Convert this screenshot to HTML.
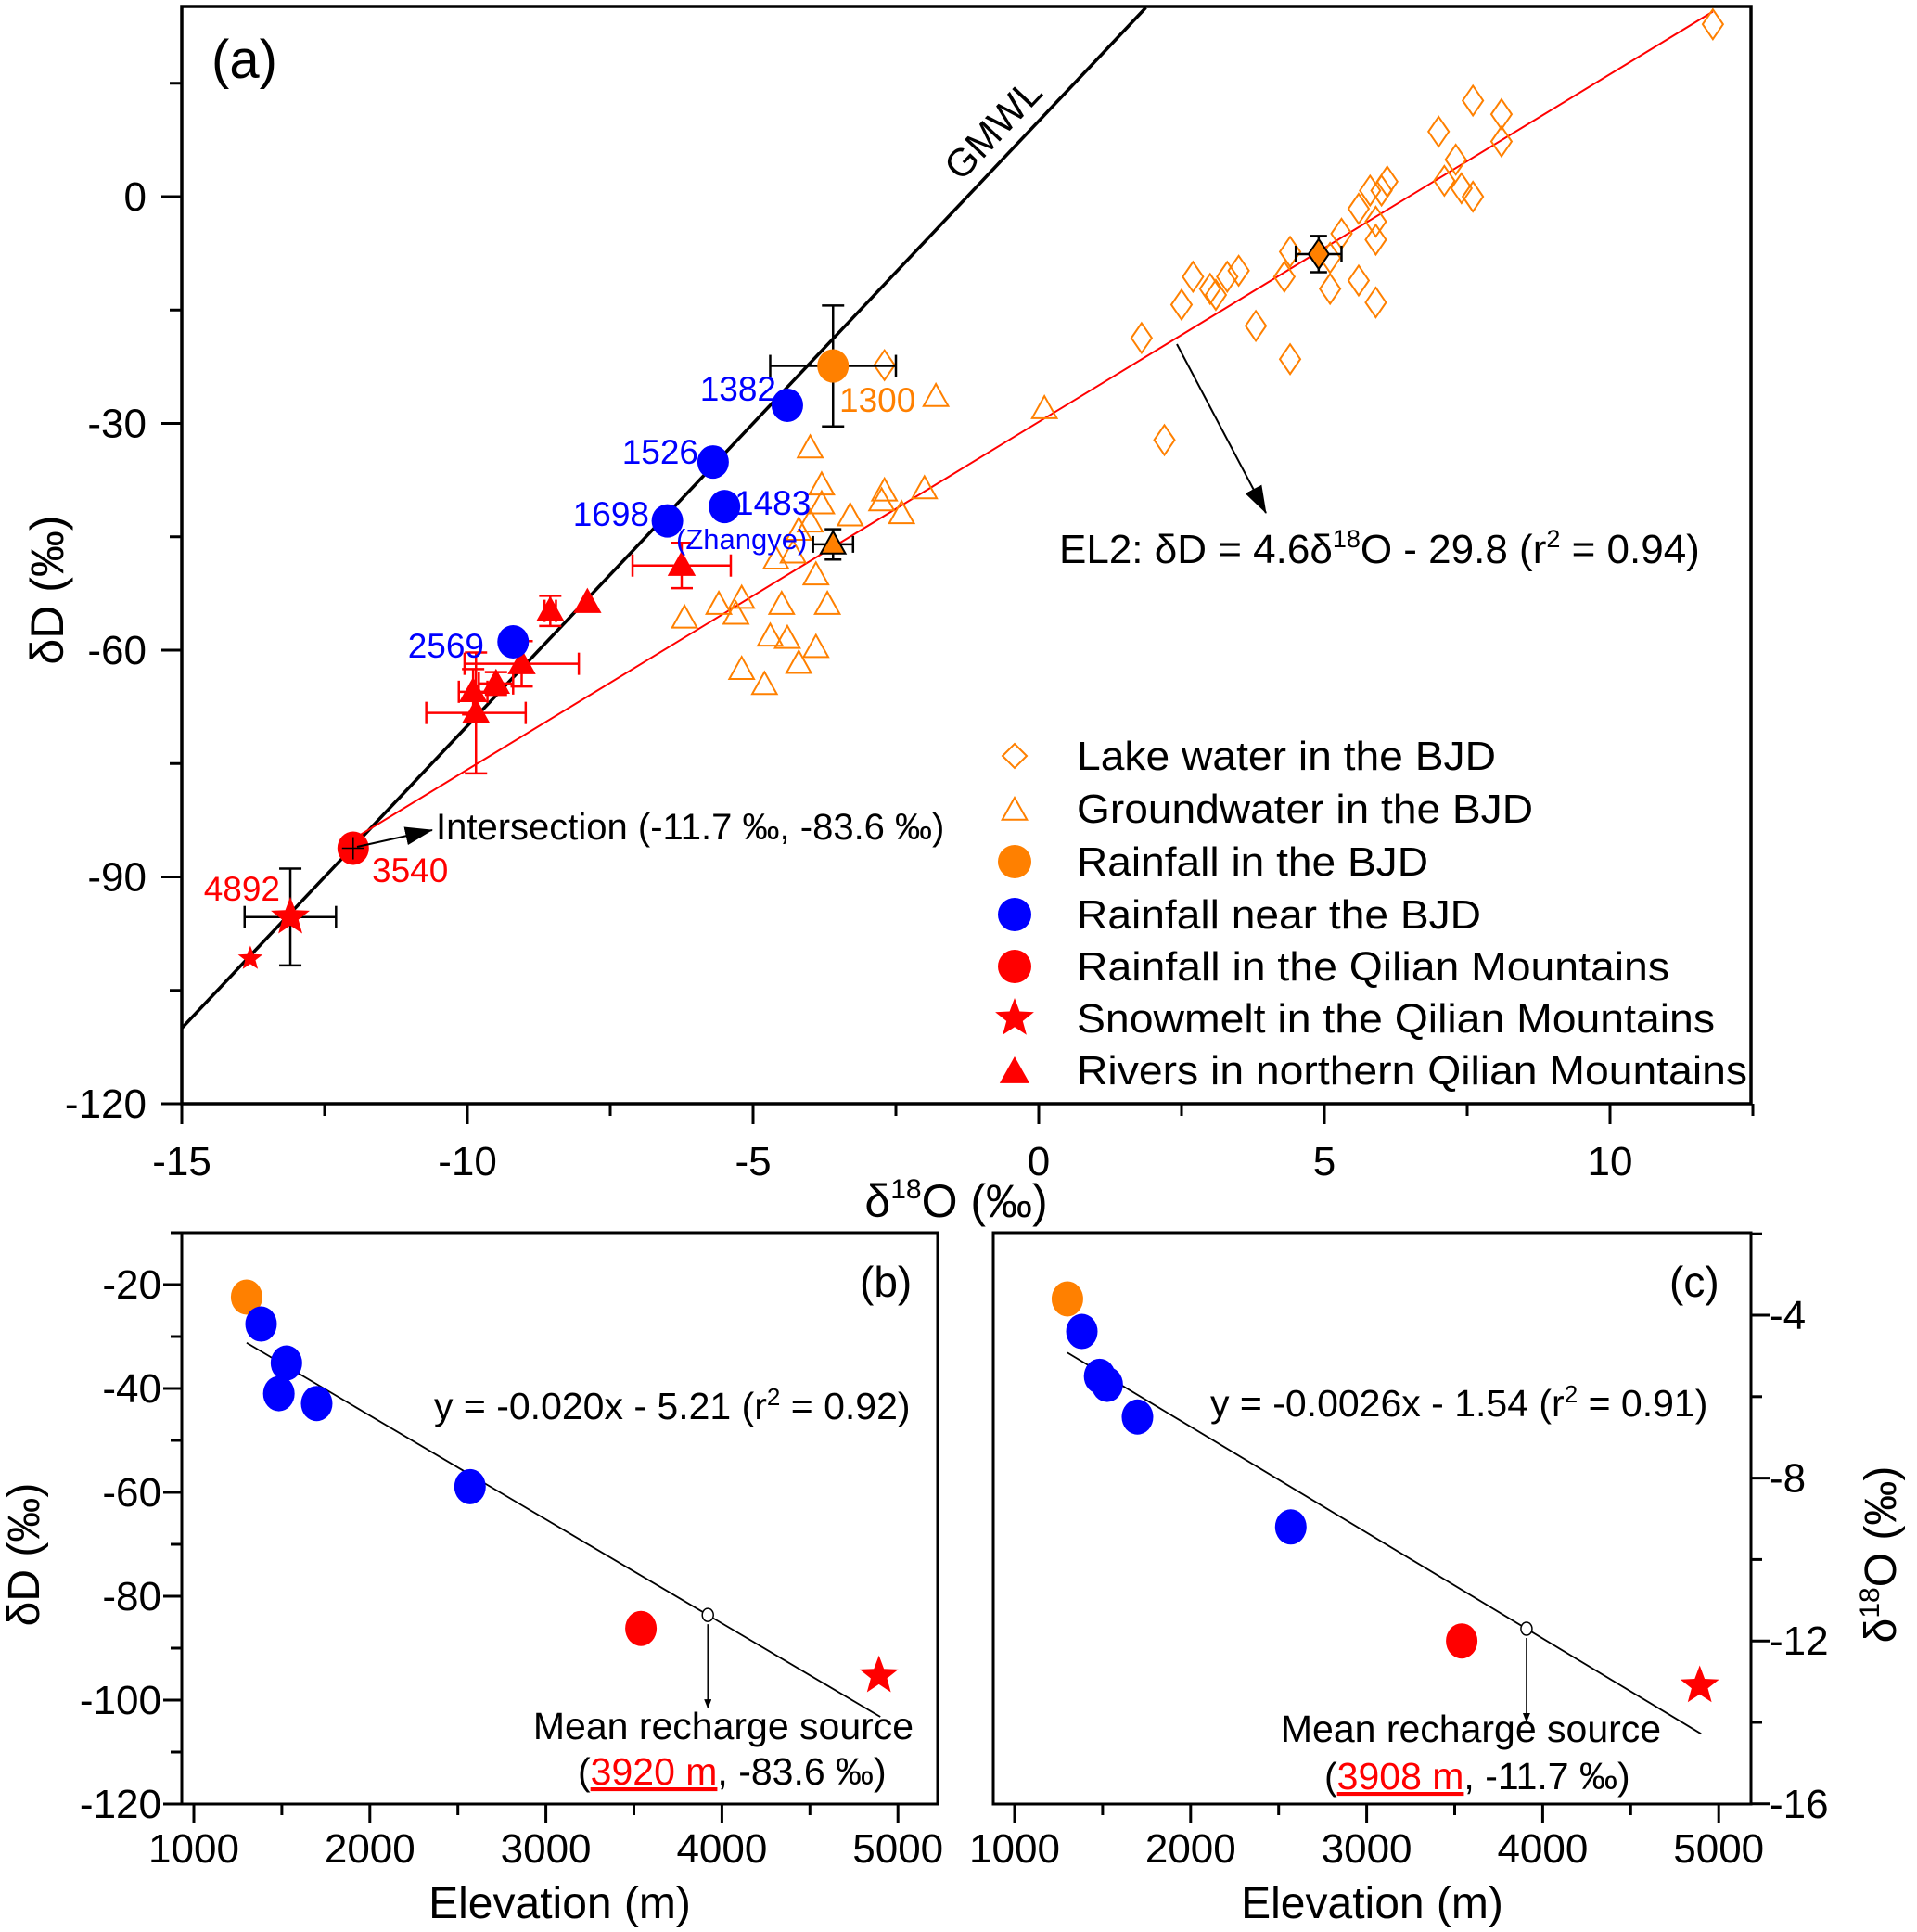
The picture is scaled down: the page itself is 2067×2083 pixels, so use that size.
<!DOCTYPE html>
<html><head><meta charset="utf-8"><style>
body{margin:0;background:#fff}
svg{display:block;font-family:"Liberation Sans",Arial,sans-serif}
</style></head><body>
<svg id="fig" width="2067" height="2083" viewBox="0 0 2067 2083" xmlns="http://www.w3.org/2000/svg">
<g id="gA"></g>
<g id="gB"></g>
<g id="gC"></g>
</svg>
<script>
// ---- data panel (a) ----
const lakeO=[11.8,7.6,8.1,7.0,7.3,8.1,7.1,7.6,7.4,6.1,6.0,5.8,5.6,5.9,5.9,5.3,4.4,5.1,4.3,5.1,5.6,5.9,4.4,3.8,3.5,3.3,3.1,3.0,2.7,2.5,1.8,2.2,-2.7];
const lakeD=[22.8,12.7,10.9,8.6,4.9,7.3,2.1,0,1.1,2.0,0.8,0.8,-1.6,-3.3,-5.7,-4.9,-7.3,-8.1,-10.6,-12.2,-11.1,-14.0,-21.5,-17.1,-9.8,-10.6,-13.0,-12.2,-10.6,-14.3,-18.7,-32.2,-22.3];
const gwO=[0.1,-1.8,-2.0,-2.7,-2.75,-2.4,-3.3,-3.8,-3.8,-4.0,-4.0,-4.2,-4.3,-4.6,-3.9,-3.7,-4.5,-5.2,-5.6,-5.3,-6.2,-4.7,-4.4,-3.9,-4.2,-5.2,-4.8];
const gwD=[-28.1,-26.5,-38.7,-39,-40.3,-42,-42.3,-40.7,-38.2,-33.3,-43.1,-44.2,-47.2,-48,-50.1,-54,-54,-53.2,-54,-55.3,-55.8,-58.2,-58.5,-59.7,-61.8,-62.6,-64.6];
const riverO=[-6.25,-7.9,-8.55,-9.05,-9.5,-9.9,-9.85];
const riverD=[-48.8,-53.7,-54.8,-61.8,-64.4,-65.5,-68.3];
const riverXerr=[0.86,0,0.1,1.0,0.3,0.25,0.87];
const riverYerr=[3,0,2,3,1.5,3,8];
const elev=[1300,1382,1526,1483,1698,2569,3540,4892];
const sampD=[-22.4,-27.6,-35.1,-41,-42.9,-58.9,-86.2,-95.3];
const sampO=[-3.6,-4.4,-5.7,-5.5,-6.5,-9.2,-12.0,-13.1];
const sampCol=['#FF8000','#0000FF','#0000FF','#0000FF','#0000FF','#0000FF','#FF0000','#FF0000'];
const sampKind=['circle','circle','circle','circle','circle','circle','circle','star'];
const xTicksA=[-15,-10,-5,0,5,10];
const yTicksA=[0,-30,-60,-90,-120];
const yTicksB=[-20,-40,-60,-80,-100,-120];
const yTicksC=[-4,-8,-12,-16];
const xTicksBC=[1000,2000,3000,4000,5000];

const NS='http://www.w3.org/2000/svg';
function el(p,t,a){const e=document.createElementNS(NS,t);for(const k in a)e.setAttribute(k,a[k]);p.appendChild(e);return e;}
function txt(p,x,y,s,sz,fill,anchor,name){const e=el(p,'text',{x:x,y:y,'font-size':sz,fill:fill||'#000','text-anchor':anchor||'start'});e.textContent=s;

return e;}
function lineE(p,x1,y1,x2,y2,st,w,name){const e=el(p,'line',{x1:x1,y1:y1,x2:x2,y2:y2,stroke:st,'stroke-width':w});

return e;}
function star(cx,cy,R){let pts=[];for(let i=0;i<10;i++){const r=i%2?R*0.42:R;const a=-Math.PI/2+i*Math.PI/5;pts.push((cx+r*Math.cos(a)).toFixed(1)+','+(cy+r*Math.sin(a)).toFixed(1));}return pts.join(' ');}
function tri(cx,cy,s){return `${cx},${cy-s} ${cx-s*0.95},${cy+s*0.7} ${cx+s*0.95},${cy+s*0.7}`;}
function dia(cx,cy,w,h){return `${cx},${cy-h} ${cx+w},${cy} ${cx},${cy+h} ${cx-w},${cy}`;}
function errbar(p,x,y,dx,dy,col,cap){ if(dx>0){lineE(p,x-dx,y,x+dx,y,col,2.5,'x-error-bar');lineE(p,x-dx,y-cap,x-dx,y+cap,col,2.5,'error-cap');lineE(p,x+dx,y-cap,x+dx,y+cap,col,2.5,'error-cap');}
 if(dy>0){lineE(p,x,y-dy,x,y+dy,col,2.5,'y-error-bar');lineE(p,x-cap,y-dy,x+cap,y-dy,col,2.5,'error-cap');lineE(p,x-cap,y+dy,x+cap,y+dy,col,2.5,'error-cap');}}

// ---------- Panel A ----------
const A=document.getElementById('gA');
const aL=196,aR=1888,aT=7,aB=1190;
const ax=v=>aL+(v+15)*61.6, ay=v=>212-v*8.15;
el(A,'rect',{x:aL,y:aT,width:aR-aL,height:aB-aT,fill:'none',stroke:'#000','stroke-width':3.5});
for(let v=-15;v<=12.5;v+=2.5){const big=Number.isInteger(v/5);lineE(A,ax(v),aB,ax(v),aB+(big?22:13),'#000',3,'x-tick');}
xTicksA.forEach(v=>txt(A,ax(v),1267,String(v),44,'#000','middle','x-tick-label'));
for(let v=-120;v<=15;v+=15){const big=v%30===0;lineE(A,aL,ay(v),aL-(big?22:13),ay(v),'#000',3,'y-tick');}
yTicksA.forEach(v=>txt(A,158,ay(v)+15,String(v),44,'#000','end','y-tick-label'));
const xt=txt(A,1031,1312,'',50,'#000','middle','x-axis-title');xt.innerHTML='δ<tspan dy="-20" font-size="30">18</tspan><tspan dy="20">O (‰)</tspan>';
const yt=txt(A,0,0,'δD (‰)',50,'#000','middle','y-axis-title');yt.setAttribute('transform','translate(68,636) rotate(-90)');
txt(A,228,84,'(a)',58,'#000','start','panel-label-a');
const cp=el(A,'clipPath',{id:'clipA'});el(cp,'rect',{x:aL,y:aT,width:aR-aL,height:aB-aT});
const gm=lineE(A,ax(-15),ay(-110),ax(1.875),ay(25),'#000',3.5,'gmwl-line');gm.setAttribute('clip-path','url(#clipA)');
lineE(A,ax(-12),ay(4.6*-12-29.8),ax(11.8),ay(4.6*11.8-29.8),'#FF0000',2,'el2-line');
const gt=txt(A,0,0,'GMWL',42,'#000','middle','gmwl-label');gt.setAttribute('transform',`translate(${ax(-0.5)-8},${ay(6)-14}) rotate(-46.7)`);
lakeO.forEach((o,i)=>{const e=el(A,'polygon',{points:dia(ax(o),ay(lakeD[i]),11,16),fill:'none',stroke:'#FF8000','stroke-width':2});

});
gwO.forEach((o,i)=>{const e=el(A,'polygon',{points:tri(ax(o),ay(gwD[i]),14),fill:'none',stroke:'#FF8000','stroke-width':2});

});
errbar(A,ax(4.9),ay(-7.6),ax(5.3)-ax(4.9),ay(-10)-ay(-7.6),'#000',9);
let m=el(A,'polygon',{points:dia(ax(4.9),ay(-7.6),11,16),fill:'#FF8000',stroke:'#000','stroke-width':2});


errbar(A,ax(-3.6),ay(-46),ax(-3.25)-ax(-3.6),ay(-48)-ay(-46),'#000',9);
m=el(A,'polygon',{points:tri(ax(-3.6),ay(-46),14),fill:'#FF8000',stroke:'#000','stroke-width':2});


riverO.forEach((o,i)=>{const x=ax(o),y=ay(riverD[i]);errbar(A,x,y,riverXerr[i]*61.6,riverYerr[i]*8.15,'#FF0000',12);
const e=el(A,'polygon',{points:tri(x,y,16),fill:'#FF0000'});

});
errbar(A,ax(sampO[0]),ay(sampD[0]),ax(-2.5)-ax(-3.6),ay(-30.4)-ay(-22.4),'#000',12);
errbar(A,ax(sampO[7]),ay(sampD[7]),ax(-12.3)-ax(-13.1),ay(-101.7)-ay(-95.3),'#000',12);
sampO.forEach((o,i)=>{const x=ax(o),y=ay(sampD[i]);let e;
 if(sampKind[i]==='star')e=el(A,'polygon',{points:star(x,y,22),fill:sampCol[i]});
 else e=el(A,'ellipse',{cx:x,cy:y,rx:17,ry:18,fill:sampCol[i]});
 
 });
m=el(A,'polygon',{points:star(ax(-13.8),ay(-100.8),14),fill:'#FF0000'});


lineE(A,ax(-12)-12,ay(-86.2),ax(-12)+12,ay(-86.2),'#000',1.5,'cross');lineE(A,ax(-12),ay(-86.2)-12,ax(-12),ay(-86.2)+12,'#000',1.5,'cross');
txt(A,837,432,'1382',37,'#0000FF','end','label-1382');
txt(A,753,500,'1526',37,'#0000FF','end','label-1526');
txt(A,700,567,'1698',37,'#0000FF','end','label-1698');
txt(A,522,709,'2569',37,'#0000FF','end','label-2569');
txt(A,792,555,'1483',37,'#0000FF','start','label-1483');
txt(A,729,592,'(Zhangye)',31,'#0000FF','start','label-zhangye');
txt(A,905,444,'1300',37,'#FF8000','start','label-1300');
txt(A,401,951,'3540',37,'#FF0000','start','label-3540');
txt(A,302,971,'4892',37,'#FF0000','end','label-4892');
el(A,'defs',{}).innerHTML='<marker id="ah" markerWidth="10" markerHeight="8" refX="9" refY="4" orient="auto" markerUnits="userSpaceOnUse" viewBox="0 0 10 8"><path d="M0,0 L10,4 L0,8 z" fill="#000"/></marker><marker id="ahb" markerWidth="30" markerHeight="20" refX="29" refY="10" orient="auto" markerUnits="userSpaceOnUse" viewBox="0 0 30 20"><path d="M0,0 L30,10 L0,20 z" fill="#000"/></marker>';
let ar=lineE(A,385,913,466,895,'#000',2,'intersection-arrow');ar.setAttribute('marker-end','url(#ahb)');
txt(A,470,905,'Intersection (-11.7 ‰, -83.6 ‰)',40,'#000','start','intersection-label');
ar=lineE(A,1269,371,1365,553,'#000',2,'el2-arrow');ar.setAttribute('marker-end','url(#ahb)');
const et=txt(A,1142,607,'',44,'#000','start','el2-equation');et.innerHTML='EL2: δD = 4.6δ<tspan dy="-17" font-size="27">18</tspan><tspan dy="17">O - 29.8 (r</tspan><tspan dy="-17" font-size="27">2</tspan><tspan dy="17"> = 0.94)</tspan>';
const legY=[815,872,929,986,1042,1098,1154];
const legT=['Lake water in the BJD','Groundwater in the BJD','Rainfall in the BJD','Rainfall near the BJD','Rainfall in the Qilian Mountains','Snowmelt in the Qilian Mountains','Rivers in northern Qilian Mountains'];
const LG=el(A,'g',{});
legY.forEach((y,i)=>{const x=1094;let e;
 if(i===0)e=el(LG,'polygon',{points:dia(x,y,13,13),fill:'none',stroke:'#FF8000','stroke-width':2});
 else if(i===1)e=el(LG,'polygon',{points:tri(x,y+2,14),fill:'none',stroke:'#FF8000','stroke-width':2});
 else if(i<5)e=el(LG,'circle',{cx:x,cy:y,r:18,fill:['#FF8000','#0000FF','#FF0000'][i-2]});
 else if(i===5)e=el(LG,'polygon',{points:star(x,y,22),fill:'#FF0000'});
 else e=el(LG,'polygon',{points:tri(x,y+2,17),fill:'#FF0000'});
 
 
 const t=txt(LG,1161,y+15,legT[i],44,'#000','start','legend-entry');t.setAttribute('textLength',[452,492,379,436,639,688,723][i]);t.setAttribute('lengthAdjust','spacingAndGlyphs');});

// ---------- Panels B and C ----------
function panel(G,L,R,x1000,yMap,yTicks,yMinorStep,yMin,yMax,vals,fit,mean,right){
 const px=v=>x1000+(v-1000)*0.1898;
 el(G,'rect',{x:L,y:1329,width:R-L,height:1945-1329,fill:'none',stroke:'#000','stroke-width':3});
 for(let v=1000;v<=5000;v+=500){lineE(G,px(v),1945,px(v),1945+(v%1000?12:20),'#000',3,'x-tick');}
 xTicksBC.forEach(v=>txt(G,px(v),2008,String(v),44,'#000','middle','x-tick-label'));
 for(let v=yMin;v<=yMax+1e-9;v+=yMinorStep){const big=yTicks.some(t=>Math.abs(t-v)<1e-6);
  if(right)lineE(G,R,yMap(v),R+(big?20:12),yMap(v),'#000',3,'y-tick');else lineE(G,L,yMap(v),L-(big?20:12),yMap(v),'#000',3,'y-tick');}
 yTicks.forEach(v=>{if(right)txt(G,R+20,yMap(v)+15,String(v),44,'#000','start','y-tick-label');else txt(G,L-22,yMap(v)+15,String(v),44,'#000','end','y-tick-label');});
 txt(G,(L+R)/2,2068,'Elevation (m)',48,'#000','middle','x-axis-title');
 lineE(G,px(1300),yMap(fit[0]*1300+fit[1]),px(4900),yMap(fit[0]*4900+fit[1]),'#000',1.8,'fit-line');
 elev.forEach((e,i)=>{const x=px(e),y=yMap(vals[i]);let s;
  if(sampKind[i]==='star')s=el(G,'polygon',{points:star(x,y,22),fill:sampCol[i]});
  else s=el(G,'ellipse',{cx:x,cy:y,rx:17,ry:19,fill:sampCol[i]});
  
  });
 const mx=px(mean[0]),my=yMap(mean[1]);
 const c=el(G,'ellipse',{cx:mx,cy:my,rx:6,ry:7,fill:'#fff',stroke:'#000','stroke-width':1.5});
 
 
 const a=lineE(G,mx,my+10,mx,my+100,'#000',1.5,'mean-arrow');a.setAttribute('marker-end','url(#ah)');
}
const B=document.getElementById('gB');
const byMap=v=>1385-(v+20)*5.6;
panel(B,196,1011,209,byMap,yTicksB,10,-120,-10,sampD,[-0.020,-5.21],[3920,-83.6],false);
const eqb=txt(B,468,1530,'',41,'#000','start','equation-b');eqb.innerHTML='y = -0.020x - 5.21 (r<tspan dy="-15" font-size="26">2</tspan><tspan dy="15"> = 0.92)</tspan>';
txt(B,927,1398,'(b)',46,'#000','start','panel-label-b');
txt(B,780,1875,'Mean recharge source',41,'#000','middle','mean-recharge-label');
const mb=txt(B,623,1924,'',41,'#000','start','mean-recharge-value');mb.innerHTML='(<tspan fill="#FF0000" text-decoration="underline">3920  m</tspan>, -83.6 ‰)';
const ybt=txt(B,0,0,'δD (‰)',48,'#000','middle','y-axis-title-b');ybt.setAttribute('transform','translate(42,1676) rotate(-90)');

const C=document.getElementById('gC');
const cyMap=v=>1418-(v+4)*43.9;
panel(C,1071,1888,1094,cyMap,yTicksC,2,-16,-2,sampO,[-0.0026,-1.54],[3908,-11.7],true);
const eqc=txt(C,1305,1527,'',41,'#000','start','equation-c');eqc.innerHTML='y = -0.0026x - 1.54 (r<tspan dy="-15" font-size="26">2</tspan><tspan dy="15"> = 0.91)</tspan>';
txt(C,1800,1398,'(c)',46,'#000','start','panel-label-c');
txt(C,1586,1878,'Mean recharge source',41,'#000','middle','mean-recharge-label');
const mc=txt(C,1428,1929,'',41,'#000','start','mean-recharge-value');mc.innerHTML='(<tspan fill="#FF0000" text-decoration="underline">3908  m</tspan>, -11.7 ‰)';
const yct=txt(C,0,0,'',48,'#000','middle','y-axis-title-c');yct.innerHTML='δ<tspan dy="-18" font-size="30">18</tspan><tspan dy="18">O (‰)</tspan>';yct.setAttribute('transform','translate(2044,1676) rotate(-90)');
</script>
</body></html>
